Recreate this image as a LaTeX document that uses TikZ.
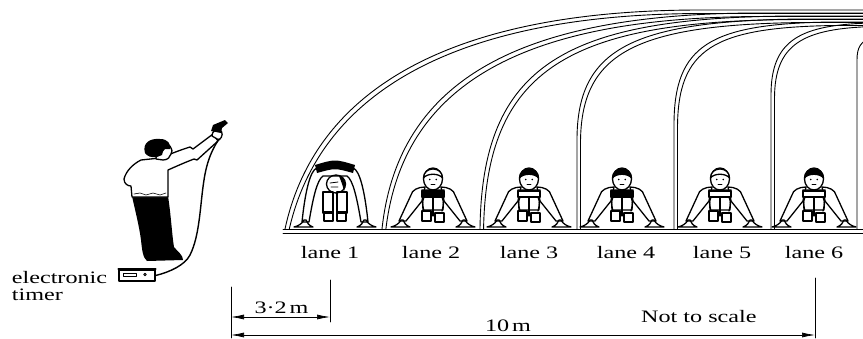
\documentclass[tikz,border=0pt]{standalone}
\usepackage{fontspec}
\newfontfamily\lblfont[FakeStretch=1.38]{Liberation Serif}
\usetikzlibrary{arrows.meta}

% one lane wall: outer line and an inner line set 3.5 units in
\newcommand\lanewall[1]{%
  \draw[wall] #1;
  \draw[wall,shift={(3.5,3.5)}] #1;}

% crouching sprinter, front view; #1 centre x, #2 hair fill, #3 vest fill
\newcommand\sprinterfig[3]{%
\begin{scope}[shift={(#1,228)},fig]
  % arms
  \draw (-8,-41) .. controls (-15,-41) and (-21,-38) .. (-22,-33) -- (-34,-7) -- (-27,-7) -- (-11,-27) -- cycle;
  \draw (8,-41) .. controls (15,-41) and (21,-38) .. (22,-33) -- (34,-7) -- (27,-7) -- (11,-27) -- cycle;
  % hands
  \draw (-42,-1) -- (-23,-1) .. controls (-27,-2.5) and (-29,-5) .. (-30,-8) -- (-32,-8) .. controls (-34,-4) and (-38,-2) .. cycle;
  \draw (42,-1) -- (23,-1) .. controls (27,-2.5) and (29,-5) .. (30,-8) -- (32,-8) .. controls (34,-4) and (38,-2) .. cycle;
  % body and legs
  \draw (-11,-38) -- (11,-38) -- (10,-18) -- (-10,-18) -- cycle;
  \draw[fill=#3] (-11,-37) rectangle (11,-31);
  \draw (0,-31) -- (0,-12);
  \draw (-9,-31) .. controls (-11,-25) .. (-9,-17);
  \draw (9,-31) .. controls (11,-25) .. (9,-17);
  % starting blocks
  \draw (-11,-17) rectangle (-2,-7);
  \draw (2,-15) rectangle (11,-6);
  % head
  \draw (0,-49) ellipse (9.5 and 11);
  \draw[fill=#2] (-9.5,-50) .. controls (-9.5,-62) and (9.5,-62) .. (9.5,-50) .. controls (6,-55) and (-6,-55) .. cycle;
  \fill[black] (-3.2,-48.5) circle (0.9) (3.2,-48.5) circle (0.9);
  \draw[line width=0.8pt] (-2,-43.5) -- (2,-43.5);
\end{scope}}

% crouching sprinter with the head down, seen from above
\newcommand\sprinterback[1]{%
\begin{scope}[shift={(#1,228)},fig]
  \draw (-33,-6) .. controls (-30,-35) and (-25,-58) .. (-18,-60) -- (18,-60) .. controls (25,-58) and (30,-35) .. (33,-6)
        -- (26,-6) .. controls (22,-30) and (18,-48) .. (12,-52) -- (-12,-52) .. controls (-18,-48) and (-22,-30) .. (-26,-6) -- cycle;
  \draw (-41,-1) -- (-22,-1) .. controls (-26,-2.5) and (-28,-5) .. (-29,-8) -- (-31,-8) .. controls (-33,-4) and (-37,-2) .. cycle;
  \draw (41,-1) -- (22,-1) .. controls (26,-2.5) and (28,-5) .. (29,-8) -- (31,-8) .. controls (33,-4) and (37,-2) .. cycle;
  \fill[black] (-20,-63) .. controls (0,-69) .. (20,-63) -- (18,-55) .. controls (0,-60) .. (-18,-55) -- cycle;
  \draw (-12,-36) rectangle (-2,-15);
  \draw (2,-36) rectangle (12,-15);
  \draw (-11,-16) rectangle (-2,-7);
  \draw (2,-16) rectangle (11,-7);
  \draw (1,-44) ellipse (9.5 and 9);
  \fill[black] (4,-52) .. controls (11,-50) and (12,-42) .. (9,-37) .. controls (8,-42) and (6,-47) .. cycle;
  \draw[line width=0.8pt] (-5,-45) -- (3,-46) (-4,-41) -- (3,-41);
\end{scope}}

\begin{document}
\begin{tikzpicture}[x=1pt,y=-1pt,line cap=round,line join=round]
\tikzset{
  lbl/.style={font=\lblfont\fontsize{17.5}{18}\selectfont,anchor=base,inner sep=0pt},
  wall/.style={line width=0.9pt},
  fig/.style={line width=1.3pt,fill=white},
  extline/.style={line width=0.8pt},
  dimarrow/.style={line width=0.7pt,{Latex[length=13pt,width=5pt]}-{Latex[length=13pt,width=5pt]}},
}
\useasboundingbox (0,0) rectangle (863,338);
\clip (0,0) rectangle (863,338);

% lane walls, clipped at the floor
\begin{scope}
  \clip (0,0) rectangle (863,229);
  \lanewall{(285,229) .. controls (315,90) and (450,10) .. (700,10) -- (880,10)}
  \lanewall{(382,229) .. controls (398,80) and (520,13) .. (760,13) -- (880,13)}
  \lanewall{(480,229) .. controls (482,65) and (565,16) .. (800,16) -- (880,16)}
  \lanewall{(577,229) -- (577,140) .. controls (577,50) and (630,21) .. (800,19) -- (880,19)}
  \lanewall{(674,229) -- (674,125) .. controls (674,45) and (710,24) .. (830,22) -- (880,22)}
  \lanewall{(771,229) -- (771,95) .. controls (771,40) and (800,25) .. (870,23) -- (880,23)}
  \draw[wall] (857,229) -- (857,60) .. controls (857,47) and (861,42) .. (870,38);
\end{scope}
% floor
\draw[wall] (283,229) -- (863,229) (283,233) -- (863,233);

% sprinters
\sprinterback{335}
\sprinterfig{433}{white}{black}
\sprinterfig{529}{black}{white}
\sprinterfig{622}{black}{black}
\sprinterfig{720}{white}{white}
\sprinterfig{814}{black}{white}

% lane labels
\node[lbl] (l1) at (330,258) {lane 1};
\node[lbl] (l2) at (431,258) {lane 2};
\node[lbl] (l3) at (529,258) {lane 3};
\node[lbl] (l4) at (626,258) {lane 4};
\node[lbl] (l5) at (722,258) {lane 5};
\node[lbl] (l6) at (814,258) {lane 6};

% starter
\fill (132,196) -- (168,196) .. controls (171,215) and (172,235) .. (174,247) .. controls (178,252) and (183,255) .. (183,260)
      -- (147,261) .. controls (143,258) and (142,250) .. (141,240) .. controls (139,225) and (135,210) .. cycle;
\draw[fig] (141,160) .. controls (133,164) and (126,171) .. (124,179) .. controls (124,184) and (128,186) .. (131,186)
      -- (132,197) -- (168,197) -- (168,170) .. controls (177,166) and (186,162) .. (194,159) -- (197,160)
      -- (218,141) -- (213,134) -- (193,149) -- (190,147) .. controls (180,150) and (168,155) .. (160,158) -- cycle;
\draw[line width=0.6pt] (134,194) -- (140,193) -- (146,195) -- (153,193) -- (160,195) -- (166,193);
\draw[fig] (157,146) -- (170,146) .. controls (172,150) and (173,152) .. (171,154) .. controls (170,157) and (168,160) .. (163,160) -- (156,159) -- cycle;
\fill (145,153) .. controls (142,143) and (150,138) .. (160,139) .. controls (168,139) and (171,144) .. (170,149)
      -- (165,149) .. controls (163,151) .. (162,155) -- (157,157) .. controls (151,158) and (147,156) .. cycle;
\draw[fig] (212,136) .. controls (212,131) and (216,129) .. (220,130) .. controls (223,132) and (223,137) .. (219,140) -- cycle;
\fill (211,131) -- (213,125) -- (225,120) -- (228,123) -- (222,128) -- (221,133) -- cycle;
\coordinate (hand) at (219,139);

% timer and its cord
\node[draw,line width=1.3pt,fill=white,minimum width=36pt,minimum height=11pt,inner sep=0pt] (timer) at (137,275.5) {};
\draw[line width=2pt] (timer.north west) -- (timer.north east);
\draw[line width=0.8pt] (123,273) rectangle (136,276.5);
\draw[line width=0.8pt] (145,274.5) circle (1.3);
\draw[line width=1.4pt] (timer.east) .. controls (170,272) and (185,265) .. (190,255)
      .. controls (200,235) and (200,205) .. (204,180) .. controls (207,160) and (213,148) .. (hand);
\node[lbl,anchor=base west] (elec) at (11.7,283.3) {electronic};
\node[lbl,anchor=base west] (timerlbl) at (11.7,300) {timer};

% dimensions
\coordinate (e0a) at (231,287);  \coordinate (e0b) at (231,338);
\coordinate (e1a) at (330,280);  \coordinate (e1b) at (330,322);
\coordinate (e2a) at (815,278);  \coordinate (e2b) at (815,338);
\draw[extline] (e0a) -- (e0b) (e1a) -- (e1b) (e2a) -- (e2b);
\coordinate (a32l) at (231,317); \coordinate (a32r) at (330,317);
\coordinate (a10l) at (231,335); \coordinate (a10r) at (815,335);
\draw[dimarrow] (a32l) -- (a32r);
\draw[dimarrow] (a10l) -- (a10r);
\node[lbl] (d32) at (281.5,313.3) {3·2\,m};
\node[lbl] (d10) at (508,331) {10\,m};
\node[lbl,anchor=base west] (nts) at (641,322) {Not to scale};
\end{tikzpicture}
\end{document}
